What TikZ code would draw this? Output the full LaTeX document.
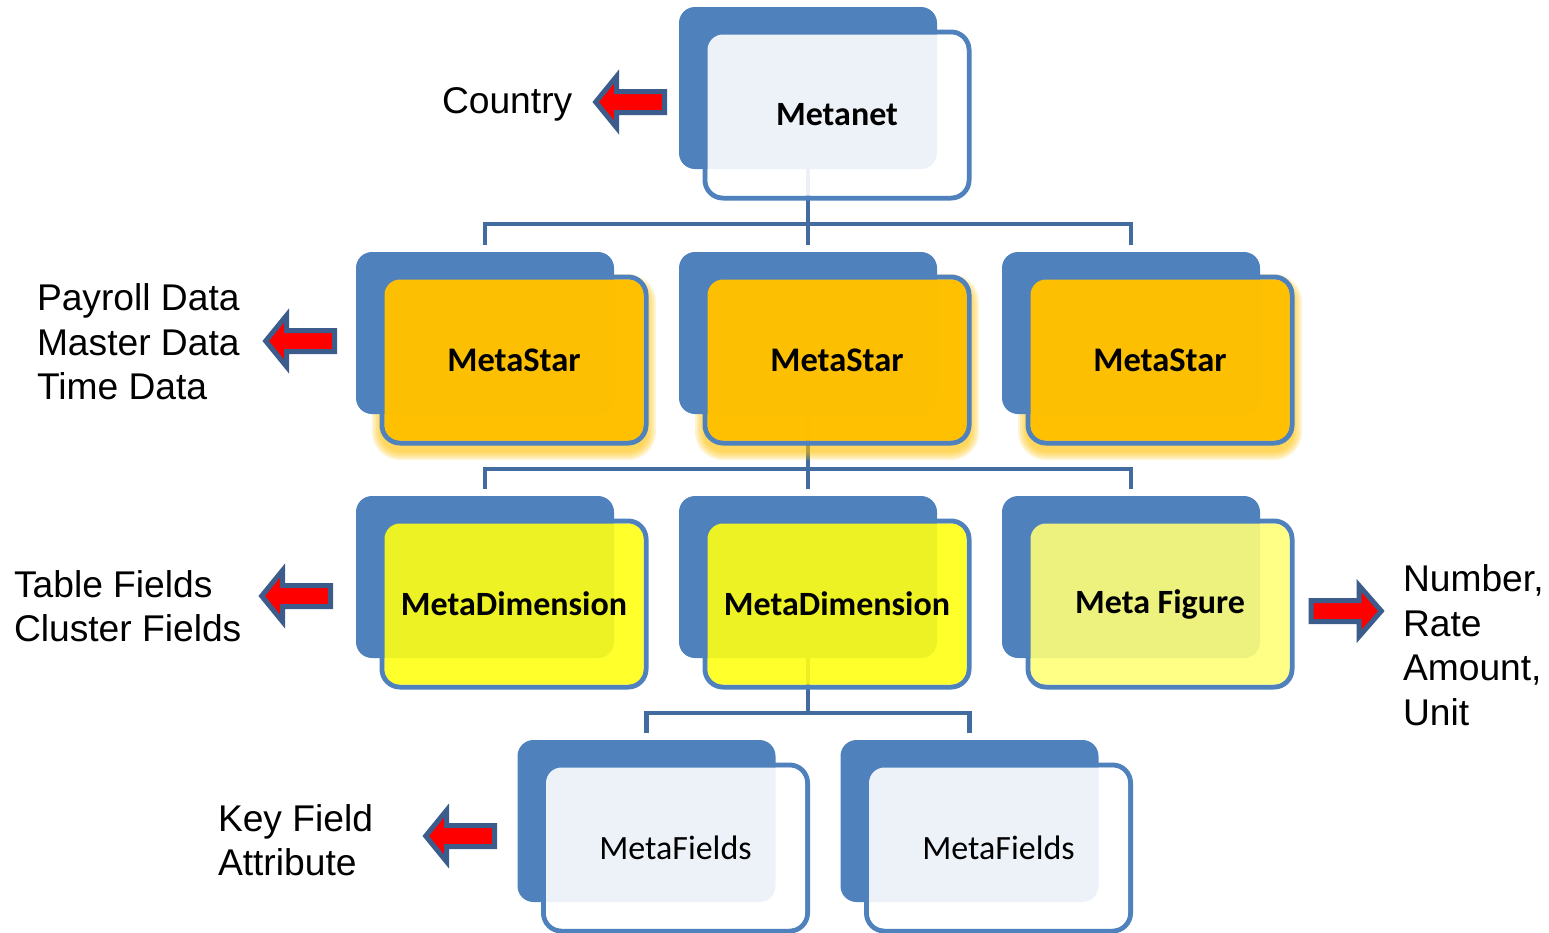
\documentclass[tikz,border=0pt]{standalone}
\usepackage{fontspec}
\setmainfont{Liberation Sans}
\newfontfamily\boxfont{Carlito}
\usetikzlibrary{calc}
\definecolor{boxblue}{RGB}{79,129,189}
\definecolor{connblue}{RGB}{66,108,160}
\definecolor{arrblue}{RGB}{60,92,140}
\definecolor{gold}{RGB}{255,192,0}
\definecolor{dimyellow}{RGB}{255,255,20}
\definecolor{figyellow}{RGB}{255,255,120}
\pgfdeclarelayer{background}
\pgfsetlayers{background,main}
\begin{document}
\begin{tikzpicture}[x=1pt,y=-1pt,
  backbox/.style={draw=none, fill=boxblue, rounded corners=16pt, minimum width=258pt, minimum height=162pt, inner sep=0pt, outer sep=0pt},
  frontline/.style={draw=boxblue, line width=5pt, rounded corners=18pt, minimum width=264pt, minimum height=166pt, inner sep=0pt, outer sep=0pt},
  frontfill/.style={draw=none, rounded corners=15.5pt, minimum width=259pt, minimum height=161pt, inner sep=0pt, outer sep=0pt, font=\boxfont\fontsize{34}{40}\selectfont},
  pale/.style={fill=white, fill opacity=0.9, text opacity=1},
  star/.style={fill=gold, fill opacity=0.985, text opacity=1, font=\boxfont\bfseries\fontsize{34.5}{40}\selectfont},
  dim/.style={fill=dimyellow, fill opacity=0.9, text opacity=1, font=\boxfont\bfseries\fontsize{34}{40}\selectfont},
  fig/.style={fill=figyellow, fill opacity=0.9, text opacity=1, font=\boxfont\bfseries\fontsize{34}{40}\selectfont},
  conn/.style={draw=connblue, line width=4.5pt},
  lbl/.style={font=\fontsize{37.2}{44.5}\selectfont, align=left, inner sep=0pt, outer sep=0pt, anchor=west},
  blockarr/.style={draw=arrblue, fill=red, line width=5pt, line join=miter},
  leftarr/.pic={\draw[blockarr] (3.7,0) -- (24.5,-25.5) -- (24.5,-10.5) -- (72.5,-10.5) -- (72.5,10.5) -- (24.5,10.5) -- (24.5,25.5) -- cycle;},
  rightarr/.pic={\draw[blockarr] (-3.7,0) -- (-26,-25.5) -- (-26,-10.5) -- (-74,-10.5) -- (-74,10.5) -- (-26,10.5) -- (-26,25.5) -- cycle;}
]
\useasboundingbox (0,0) rectangle (1549,932);

% ---- Row 1: Metanet
\node[frontline] (f1) at (837,115) {};
\node[backbox] (b1) at (808,88) {};
\node[frontfill,pale] (t1) at (837,115) {\bfseries Metanet};

% ---- Row 2: MetaStar (with glow)
\foreach \fx/\bx/\nm in {514/485/1, 837/808/2, 1160/1131/3}{
  \foreach \k in {2,4,6,8,10}{
    \fill[gold, opacity=0.18, rounded corners={18pt+\k pt}]
      (\fx-132-\k, 360-83+7-\k) rectangle (\fx+132+\k, 360+83+7+\k);
  }
  \node[frontline] (f2\nm) at (\fx,360) {};
  \node[backbox] (b2\nm) at (\bx,333) {};
  \node[frontfill,star] (t2\nm) at (\fx,360) {MetaStar};
}

% ---- Row 3
\node[frontline] (f31) at (514,604) {};
\node[backbox] (b31) at (485,577) {};
\node[frontfill,dim] (t31) at (514,604) {MetaDimension};
\node[frontline] (f32) at (837,604) {};
\node[backbox] (b32) at (808,577) {};
\node[frontfill,dim] (t32) at (837,604) {MetaDimension};
\node[frontline] (f33) at (1160,604) {};
\node[backbox] (b33) at (1131,577) {};
\node[frontfill,fig] (t33) at (1160,604) {Meta Figure};

% ---- Row 4
\node[frontline] (f41) at (675.5,848) {};
\node[backbox] (b41) at (646.5,821) {};
\node[frontfill,pale] (t41) at (675.5,848) {MetaFields};
\node[frontline] (f42) at (998.5,848) {};
\node[backbox] (b42) at (969.5,821) {};
\node[frontfill,pale] (t42) at (998.5,848) {MetaFields};

% ---- connectors
\begin{pgfonlayer}{background}
  \foreach \c in {b21,b22,b23}{\draw[conn] (b1.south) -- ++(0,55) -| ([yshift=7pt]\c.north);}
  \foreach \c in {b31,b32,b33}{\draw[conn] (b22.south) -- ++(0,55) -| ([yshift=7pt]\c.north);}
  \foreach \c in {b41,b42}{\draw[conn] (b32.south) -- ++(0,55) -| ([yshift=7pt]\c.north);}
\end{pgfonlayer}

% ---- labels
\node[lbl] (lCountry) at (442,104) {Country};
\node[lbl] (lPayroll) at (37,342) {Payroll Data\\Master Data\\Time Data};
\node[lbl] (lTable) at (14,606) {Table Fields\\Cluster Fields};
\node[lbl] (lNumber) at (1403,645) {Number,\\Rate\\Amount,\\Unit};
\node[lbl] (lKey) at (218,840) {Key Field\\Attribute};

% ---- block arrows
\pic (aCountry) at (592,102) {leftarr};
\pic (aPayroll) at (262,341) {leftarr};
\pic (aTable) at (258,596) {leftarr};
\pic (aKey) at (422,836) {leftarr};
\pic (aNumber) at (1385,611) {rightarr};
\end{tikzpicture}
\end{document}
